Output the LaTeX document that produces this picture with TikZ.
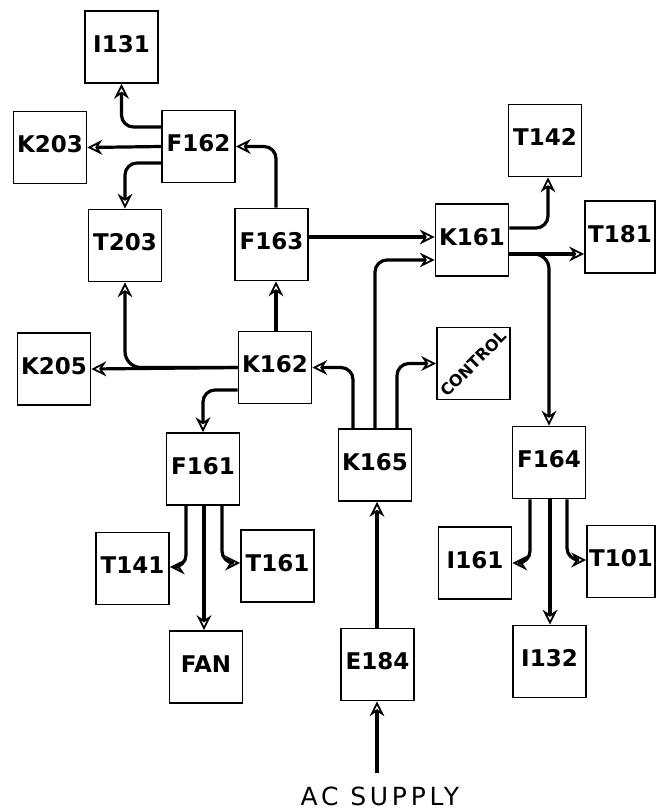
\documentclass[tikz,border=0pt]{standalone}
\usepackage{fontspec}
\usepackage{graphicx}
\setmainfont{DejaVu Sans}
\usetikzlibrary{arrows.meta}
\tikzset{
  blk/.style={draw, line width=1.7pt, minimum width=73pt, minimum height=72pt, inner sep=0pt,
    font=\fontsize{23}{23}\selectfont\bfseries, text height=1.05em, text depth=0pt},
  conn/.style={line width=3.2pt, rounded corners=12pt,
    -{Stealth[open,length=15pt,width=15pt,inset=5pt,line width=1.8pt]}},
}
\begin{document}
\begin{tikzpicture}[x=1pt,y=-1pt]
\useasboundingbox (0,0) rectangle (656,811);
% boxes
\node[blk] (I131) at (121.5,47) {I131};
\node[blk] (K203) at (50,147.5) {K203};
\node[blk] (F162) at (198.5,146.5) {F162};
\node[blk] (T203) at (125,245.5) {T203};
\node[blk] (F163) at (271.5,244.5) {F163};
\node[blk] (T142) at (545,140.5) {T142};
\node[blk] (K161) at (472,240) {K161};
\node[blk, minimum width=70pt] (T181) at (620,237) {T181};
\node[blk] (K205) at (54,369) {K205};
\node[blk] (K162) at (275,367.5) {K162};
\node[blk, font=\fontsize{16}{16}\selectfont\bfseries, text height=, text depth=] (CONTROL) at (473.5,363.5) {\rotatebox{45}{CONTROL}};
\node[blk] (F161) at (203,469) {F161};
\node[blk] (K165) at (375,465) {K165};
\node[blk] (F164) at (549,462.5) {F164};
\node[blk] (T141) at (132.5,568.5) {T141};
\node[blk] (T161) at (277.5,566) {T161};
\node[blk] (I161) at (475,563) {I161};
\node[blk, minimum width=68pt] (T101) at (621,561.5) {T101};
\node[blk] (FAN) at (206,667) {FAN};
\node[blk] (E184) at (377.5,664.5) {E184};
\node[blk] (I132) at (549.5,661.5) {I132};
\node[font=\fontsize{25}{25}\selectfont\addfontfeature{LetterSpace=15}] (AC) at (380,796) {AC SUPPLY};
\coordinate (acin) at (377,773);
% connectors
\draw[conn] (F162.west |- 0,127) -| (I131.south);
\draw[conn] (F162.west) -- (K203.east);
\draw[conn] (F162.west |- 0,163) -| (T203.north);
\draw[conn] (F163.north -| 276,0) |- (F162.east);
\draw[conn] (F163.east |- 0,237) -- (K161.west |- 0,237);
\draw[conn] (K162.north -| 276,0) -- (F163.south -| 276,0);
\draw[conn] (K162.west) -- (K205.east);
\draw[conn, rounded corners=16pt] (K162.west) -| (T203.south);
\draw[conn] (K162.west |- 0,390) -| (F161.north);
\draw[conn] (K165.north -| 353,0) |- (K162.east);
\draw[conn] (K165.north) |- (K161.west |- 0,260);
\draw[conn] (K165.north -| 397,0) |- (CONTROL.west);
\draw[conn] (K161.east |- 0,228) -| (T142.south -| 548,0);
\draw[conn] (K161.east |- 0,254) -- (T181.west |- 0,254);
\draw[conn, rounded corners=15pt] (K161.east |- 0,254) -| (F164.north);
\draw[conn] (F161.south -| 186,0) |- (T141.east |- 0,567);
\draw[conn] (F161.south -| 204,0) -- (FAN.north -| 204,0);
\draw[conn] (F161.south -| 222,0) |- (T161.west |- 0,563);
\draw[conn] (F164.south -| 530,0) |- (I161.east |- 0,563);
\draw[conn] (F164.south -| 550,0) -- (I132.north -| 550,0);
\draw[conn] (F164.south -| 567,0) |- (T101.west |- 0,560);
\draw[conn] (E184.north -| 377,0) -- (K165.south -| 377,0);
\draw[conn] (acin) -- (E184.south -| 377,0);
\end{tikzpicture}
\end{document}
